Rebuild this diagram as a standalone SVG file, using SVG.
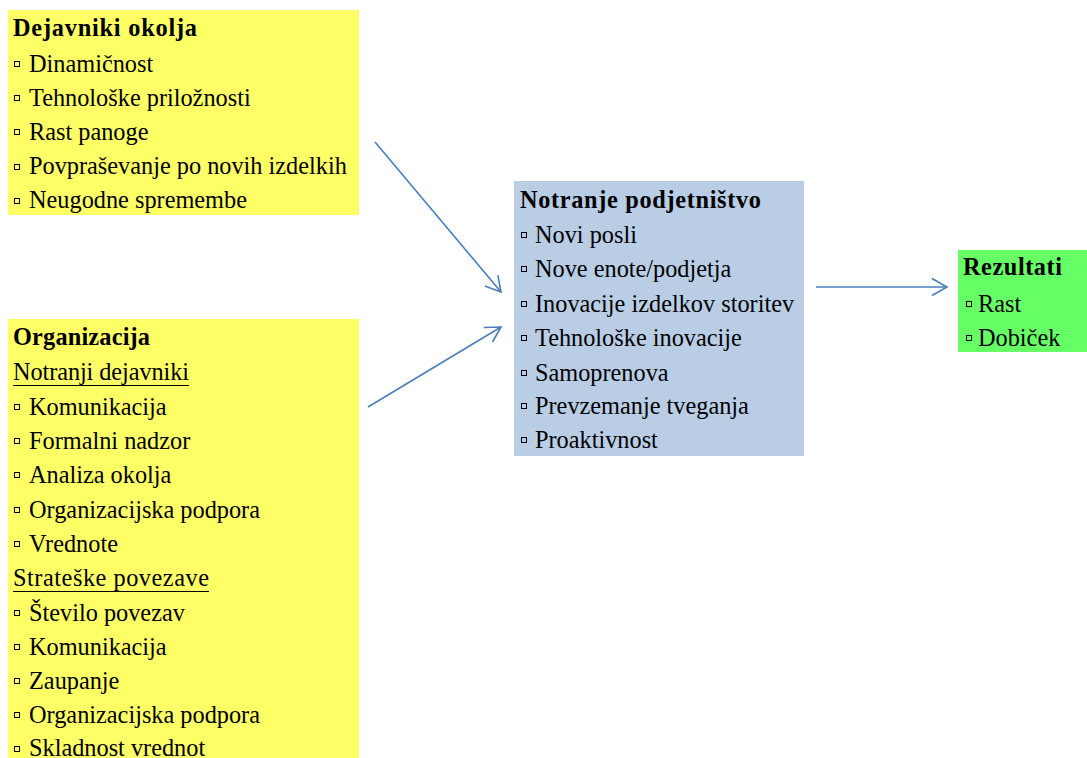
<svg xmlns="http://www.w3.org/2000/svg" width="1087" height="758" viewBox="0 0 1087 758">
<style>
text{font-family:"Liberation Serif","Times New Roman",serif;font-size:24.3px;fill:#000}
.t{font-weight:bold}
.b{fill:none;stroke:#000;stroke-width:1}
.c{stroke:#4a7ebb;stroke-width:1.6;fill:none}
</style>
<defs>
<marker id="ah" markerUnits="userSpaceOnUse" viewBox="0 0 18 20" refX="16" refY="10" markerWidth="18" markerHeight="20" orient="auto">
<path d="M1,1.5 L16,10 L1,18.5" fill="none" stroke="#4a7ebb" stroke-width="1.6"/>
</marker>
<symbol id="bl" viewBox="0 0 6 6" overflow="visible"><rect x="0.5" y="0.5" width="5" height="5" fill="none" stroke="#000" stroke-width="1"/></symbol>
</defs>
<rect width="1087" height="758" fill="#fff"/>

<g id="connectors">
<line class="c" x1="375" y1="142" x2="501" y2="292" marker-end="url(#ah)"/>
<line class="c" x1="368" y1="407" x2="501" y2="327" marker-end="url(#ah)"/>
<line class="c" x1="816" y1="287" x2="947" y2="287" marker-end="url(#ah)"/>
</g>

<g id="dejavniki-okolja">
<rect x="8" y="10" width="351" height="205" fill="#ffff66"/>
<text class="t" x="13" y="36" textLength="184" lengthAdjust="spacing">Dejavniki okolja</text>
<g>
<use href="#bl" x="14" y="61" width="6" height="6"/>
<use href="#bl" x="14" y="95" width="6" height="6"/>
<use href="#bl" x="14" y="129" width="6" height="6"/>
<use href="#bl" x="14" y="164" width="6" height="6"/>
<use href="#bl" x="14" y="198" width="6" height="6"/>
</g>
<text x="29" y="72">Dinamičnost</text>
<text x="29" y="106">Tehnološke priložnosti</text>
<text x="29" y="140">Rast panoge</text>
<text x="29" y="174">Povpraševanje po novih izdelkih</text>
<text x="29" y="208">Neugodne spremembe</text>
</g>

<g id="organizacija">
<rect x="8" y="319" width="351" height="439" fill="#ffff66"/>
<text class="t" x="13" y="345" textLength="137" lengthAdjust="spacing">Organizacija</text>
<text x="13" y="380" textLength="176" lengthAdjust="spacing">Notranji dejavniki</text>
<line class="b" x1="13" y1="385.5" x2="189" y2="385.5"/>
<text x="29" y="415">Komunikacija</text>
<text x="29" y="449">Formalni nadzor</text>
<text x="29" y="483">Analiza okolja</text>
<text x="29" y="518">Organizacijska podpora</text>
<text x="29" y="552">Vrednote</text>
<text x="13" y="586" textLength="196" lengthAdjust="spacing">Strateške povezave</text>
<line class="b" x1="13" y1="591.5" x2="209" y2="591.5"/>
<text x="29" y="621">Število povezav</text>
<text x="29" y="655">Komunikacija</text>
<text x="29" y="689">Zaupanje</text>
<text x="29" y="723">Organizacijska podpora</text>
<text x="29" y="756">Skladnost vrednot</text>
<g>
<use href="#bl" x="14" y="404" width="6" height="6"/>
<use href="#bl" x="14" y="438" width="6" height="6"/>
<use href="#bl" x="14" y="472" width="6" height="6"/>
<use href="#bl" x="14" y="507" width="6" height="6"/>
<use href="#bl" x="14" y="541" width="6" height="6"/>
<use href="#bl" x="14" y="610" width="6" height="6"/>
<use href="#bl" x="14" y="644" width="6" height="6"/>
<use href="#bl" x="14" y="678" width="6" height="6"/>
<use href="#bl" x="14" y="712" width="6" height="6"/>
<use href="#bl" x="14" y="746" width="6" height="6"/>
</g>
</g>

<g id="notranje-podjetnistvo">
<rect x="514" y="181" width="290" height="275" fill="#b9cde5"/>
<text class="t" x="520" y="208" textLength="241" lengthAdjust="spacing">Notranje podjetništvo</text>
<text x="535" y="243">Novi posli</text>
<text x="535" y="277">Nove enote/podjetja</text>
<text x="535" y="312">Inovacije izdelkov storitev</text>
<text x="535" y="346">Tehnološke inovacije</text>
<text x="535" y="381">Samoprenova</text>
<text x="535" y="414">Prevzemanje tveganja</text>
<text x="535" y="448">Proaktivnost</text>
<g>
<use href="#bl" x="521" y="232" width="6" height="6"/>
<use href="#bl" x="521" y="266" width="6" height="6"/>
<use href="#bl" x="521" y="301" width="6" height="6"/>
<use href="#bl" x="521" y="335" width="6" height="6"/>
<use href="#bl" x="521" y="370" width="6" height="6"/>
<use href="#bl" x="521" y="403" width="6" height="6"/>
<use href="#bl" x="521" y="437" width="6" height="6"/>
</g>
</g>

<g id="rezultati">
<rect x="958" y="250" width="129" height="102" fill="#66ff66"/>
<text class="t" x="963" y="275" textLength="99" lengthAdjust="spacing">Rezultati</text>
<text x="978" y="312">Rast</text>
<text x="978" y="346">Dobiček</text>
<use href="#bl" x="966" y="301" width="6" height="6"/>
<use href="#bl" x="966" y="335" width="6" height="6"/>
</g>
</svg>
